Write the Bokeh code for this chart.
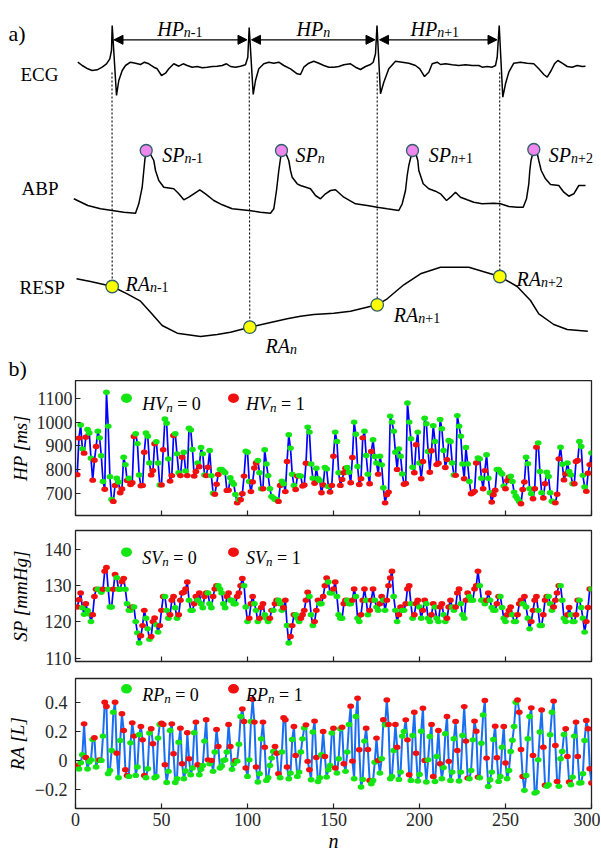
import numpy as np
from bokeh.plotting import figure
from bokeh.models import Range1d, FixedTicker, Label, Arrow, NormalHead
from bokeh.layouts import column
from bokeh.core.properties import value
from bokeh.embed import file_html
from bokeh.resources import INLINE

FONT = "Liberation Serif"

# ------------------------------------------------------------------ panel b data
HP = [780, 933, 988, 888, 870, 937, 969, 954, 849, 757, 840, 898, 962, 934, 859, 751, 719, 1125, 983, 771,
      676, 668, 735, 765, 749, 704, 720, 853, 822, 756, 765, 739, 746, 940, 951, 910, 779, 733, 735, 874,
      954, 941, 829, 779, 797, 909, 918, 829,
      737, 737, 884, 1013, 995, 846, 753, 776, 944, 951, 867, 788, 776, 853, 874, 795, 776, 974, 967, 885,
      774, 793, 829, 813, 894, 867, 779, 776, 811, 881, 776, 702, 698, 740, 781, 802, 802, 795, 788, 714,
      715, 767, 749, 740, 697, 662, 676, 675, 700, 774, 878, 874, 751, 709, 749, 808, 829, 839, 788, 721,
      721, 884, 825, 776, 721, 689, 683, 676, 676, 668, 735, 753, 742, 709, 835, 947, 891, 782, 735, 718,
      774, 776, 774, 732, 737, 828, 979, 958, 825, 765, 744, 807, 763, 756, 704, 737, 810, 804, 730, 707,
      735, 857, 958,
      919, 788, 735, 760, 788, 807, 810, 790, 746, 852, 1000, 949, 814, 739, 763, 934, 962, 860, 782, 742,
      877, 926, 856, 829, 782, 857, 821, 725, 662, 696, 707, 1025, 1000, 962, 874, 802, 888, 857, 783, 740,
      743, 1080, 1000, 930, 811, 788, 905, 958, 829, 763, 835, 1016, 993, 877, 790, 880, 985, 919, 822, 828,
      1011, 972, 881, 810, 843, 923, 919, 829, 779, 777, 1027, 983, 941, 825, 763, 894, 825, 751, 700, 704,
      710, 829, 850, 846, 765, 721, 797, 863, 765, 704, 665, 696, 715, 802, 802, 790, 783, 732, 721, 755,
      769, 773, 751, 707, 690, 679, 668, 658, 718, 749, 853, 826, 721, 700, 679, 721, 895, 913, 793, 704,
      682, 742, 790, 772, 704, 669, 665, 662, 698, 846, 895, 824, 758, 783, 829, 793, 779, 742, 742, 835,
      839, 919, 898, 777, 728, 710, 786, 822, 871]

SP = [124.1, 126.1, 128, 123.9, 122.1, 125, 123.2, 122.2, 120.1, 122,
      127, 129, 129, 129, 128.2, 129, 134, 135, 129, 124.1,
      124.1, 129, 133.1, 132.2, 129, 129, 131.1, 132, 129, 125,
      123.2, 123.2, 124.1, 124.1, 120.1, 117, 114.2, 116.2, 119, 123.2,
      121, 118.1, 115.2, 116, 120.1, 121.1, 119.2, 117.2, 119, 123.2,
      127, 127, 123.2, 121, 122, 126, 127, 123.9, 121, 122,
      126, 128, 128.2, 129.1, 131, 126, 123.2, 123.2, 125, 127,
      126, 128, 125, 123.9, 127, 128, 128, 125, 123.9, 127,
      129.1, 130, 130, 129, 128, 125, 123.9, 127, 128, 126,
      126, 125, 125, 127, 128, 130, 132, 130, 124.1, 120.1,
      121, 125, 127, 125, 123.2, 120.1, 121, 124, 125, 122,
      121, 120.1, 121, 123.2, 123.2, 125, 126, 126, 125, 123.2,
      123.9, 126, 119, 114.2, 116, 119, 122, 122, 121, 120.1,
      121, 122, 123.2, 126, 128.2, 127, 122, 119, 120.1, 123.2,
      126, 125, 125, 127, 130, 132.1, 131, 128, 128, 129.1,
      131, 127, 122, 121, 121, 125, 126, 126, 125, 125,
      126, 129.1, 127, 121, 120.1, 122, 126, 129.1, 126, 122,
      123.2, 126, 129.1, 126, 124.1, 123.2, 125, 127, 126, 123.2,
      126, 130, 132.1, 134, 127, 123.2, 120.1, 122, 124.1, 123.2,
      123.2, 125, 129.1, 130, 125, 121, 122, 125, 126, 124.1,
      121, 123.2, 126, 125, 121, 120.1, 122, 125, 124.1, 121,
      120.1, 124.1, 125, 122, 120.1, 121, 124.1, 126, 124.1, 123.2,
      124.1, 128, 129.1, 125, 122, 121, 126, 128, 127, 126,
      126, 129.1, 130, 134, 130, 126, 126, 125, 126, 128,
      126, 124, 123.2, 123.2, 125, 127, 127, 124, 121, 120.1,
      122, 123.2, 124.1, 122, 120.1, 120.1, 122, 125, 126, 125,
      127, 124.1, 121, 118.1, 120.1, 123.2, 126, 127, 123.2, 119,
      119, 122, 126, 127, 127, 125, 123.2, 124.1, 126, 128,
      130, 130, 126, 121, 120.1, 122, 124, 122, 120.1, 120.1,
      122, 126, 126, 124, 121, 117.2, 120.1, 124, 129.1, 129.1]

RA = [-0.035, -0.06, -0.016, 0.04, 0.254, 0.02, -0.06, -0.01, 0.004, 0.146,
      0.157, -0.046, 0, 0.004, 0, 0.169, 0.404, 0.374, -0.092, -0.07,
      0.069, 0.335, 0.404, 0.05, -0.12, 0.139, 0.324, 0.208, -0.065, -0.104,
      -0.111, 0.122, 0.261, 0.169, -0.104, -0.046, 0.178, 0.236, 0.143, -0.104,
      -0.12, -0.058, 0.19, 0.22, 0.116, -0.12, -0.111, 0.155, 0.25, 0.259,
      0.25, -0.03, -0.153, -0.076, 0.208, 0.254, 0.046, -0.153, -0.127, 0.127,
      0.224, -0.023, -0.127, -0.074, 0.192, 0.012, -0.1, -0.053, 0.192, 0.266,
      -0.03, -0.1, -0.062, -0.035, 0.134, 0.282, 0.004, -0.023, 0, -0.076,
      0.058, 0.215, 0.097, -0.053, -0.039, 0, 0.004, 0.058, 0.25, 0.097,
      -0.062, -0.023, 0, -0.005, 0.113, 0.305, 0.358, 0.271, -0.053, -0.111,
      0.004, 0.271, 0.425, 0.266, -0.046, -0.15, -0.092, 0.15, 0.266, 0.092,
      -0.139, -0.12, -0.035, 0.016, 0.062, 0.097, 0.05, -0.092, -0.12, 0.058,
      0.296, 0.282, -0.046, -0.127, -0.088, 0.146, 0.236, 0.035, -0.111, -0.081,
      0.058, 0.15,
      0.226, 0.247, -0.007, -0.065, -0.134, 0.197, 0.273, 0.02, -0.146, -0.12,
      0.039, 0.201, 0.028, -0.116, -0.065, -0.035, 0.19, 0.224, -0.053, -0.088,
      0.012, 0.22, 0.231, -0.023, -0.076, 0.058, 0.25, 0.377, -0.005, -0.127,
      0.305, 0.432, 0.074, -0.185, -0.132, 0.134, 0.224, 0.076, -0.139, -0.162,
      -0.139, -0.012, 0.155, 0, -0.088, 0.012, 0.282, 0.247, 0.42, 0.25,
      -0.127, -0.111, 0.069, 0.25, 0.092, -0.132, -0.081, 0.169, 0.201, 0.282,
      0.143, -0.1, -0.139, 0.173, 0.335, 0.05, -0.143, -0.097, 0.203, 0.363,
      0, -0.15, 0.004, 0.166, 0.25, -0.111, -0.146, 0.028, 0.208, -0.023,
      -0.127, -0.05, 0.185, 0.305, -0.007, -0.139, -0.081, 0.15, 0.271, 0.069,
      -0.143, -0.081, 0.173, 0.374, 0.134, -0.123, -0.127, -0.07, 0.143, 0.273,
      0.203, -0.116, -0.12, 0.12, 0.316, 0.416, 0.016, -0.181, -0.134, -0.081,
      0.146, 0.238, 0.018, -0.146, -0.111, 0.092, 0.236, -0.018, -0.127, -0.07,
      0.062, 0.14, 0.236, 0.404, 0.42, 0.335, 0.076, -0.111, -0.208, -0.104,
      0.15, 0.305, 0.365, 0.035, -0.227, -0.22, 0.004, 0.197, 0.351, 0.092,
      -0.173, -0.18, -0.169, 0.178, 0.335, 0.412, 0.104, -0.146, -0.18, 0.012,
      0.062, 0.18, 0.22, 0.028, -0.15, -0.169, -0.116, 0.169, 0.266, 0.028,
      -0.157, -0.155, -0.092, 0.139, 0.277, 0.22, -0.058, -0.157]

X_TICKS = [0, 50, 100, 150, 200, 250, 300]
HP_TICKS = [700, 800, 900, 1000, 1100]
SP_TICKS = [110, 120, 130, 140]
RA_TICKS = [-0.2, 0, 0.2, 0.4]

# ------------------------------------------------------------------ panel a data (schematic, px units)
ECG_X = [77.3, 81.7, 87.3, 91.7, 96.7, 101.7, 106, 109.3, 111, 111.7, 116, 118.3, 121.7, 125, 130, 135, 140,
         144, 148.3, 153.3, 156.7, 161, 165, 168.3, 173.3, 178.3, 182.7, 186.7, 191.7, 196.7, 201.7, 206.7,
         211.7, 216.7, 221.7, 226, 230, 235, 240, 245, 247.3, 248.7, 252.7, 255, 258.3, 263.3, 268.3, 273.3,
         278.3, 283.3, 290, 296.7, 300, 303.3, 308.3, 313.3, 318.3, 323.3, 328.3, 333.3, 338.3, 343.3, 350,
         355, 360, 365, 370, 372.7, 375, 376.5, 380, 383.3, 388.3, 395, 401.7, 408.3, 415, 419.3, 424, 428.3,
         431.7, 436.7, 440, 445, 451.7, 458.3, 465, 471.7, 478.3, 481.7, 486.7, 491.7, 495, 496.7, 498.7,
         502.3, 505, 508.3, 513.3, 520, 526.7, 533.3, 538.3, 543.3, 546.7, 550.7, 554, 557.3, 561.7, 566.7,
         571.7, 576.7, 581.7, 585]
ECG_Y = [61.7, 65, 68.3, 70, 69.3, 66.7, 63.3, 58.3, 50, 25, 95, 80, 70, 65, 61.7, 62.7, 64,
         61.7, 63.3, 66.7, 68.3, 75, 72.7, 68.3, 63.3, 65.7, 63.3, 65, 66.7, 66, 67.3, 66.7,
         66, 65.7, 65, 63.3, 66, 66.7, 65.7, 64.3, 56.7, 27, 94, 80, 68.3, 63.3, 61.7, 62.7,
         61.7, 65, 68.3, 73.3, 74, 66.7, 62.7, 60.7, 62.7, 65, 66.7, 66.7, 66, 64.3, 63.3,
         66.7, 69, 66, 64, 61.7, 53.3, 25, 93.3, 81.7, 68.3, 60.7, 61.7, 62.7, 65, 68.3, 76, 71.7,
         63.3, 61.7, 64, 63.3, 64.3, 65, 64.3, 65, 65, 66.7, 66, 66.7, 65, 56.7, 25,
         96.7, 83.3, 71.7, 62.7, 61.7, 62.7, 63.3, 68.3, 74, 76.7, 70, 63.3, 60, 62.7, 66,
         66.7, 65, 66, 65.7]

ABP_X = [73.3, 87.3, 100, 111.7, 123.3, 135, 138.3, 141.7, 143.3, 144.5, 145.7, 149, 153.3, 155, 158.3,
         163.3, 173.3, 178.3, 183.3, 188.3, 193.3, 199.3, 205, 213.3, 221.7, 231.7, 248.3, 260, 270, 273.3,
         276, 278.3, 280, 281, 285, 288.3, 290, 291.7, 296.7, 300, 310, 315, 320, 325, 330, 335, 343.3, 355,
         366.7, 376.7, 386.7, 398.3, 401.7, 405, 406.7, 408.3, 410.5, 412, 415, 417.3, 418.3, 422.7, 428.3,
         435, 440, 446, 450, 455, 460, 466.7, 473.3, 481.7, 493.3, 500, 508.3, 516.7, 522.7, 526, 528.3,
         529.3, 530.5, 533.3, 536.5, 538.3, 540.7, 545, 550, 558.3, 563.3, 568.3, 573.3, 578.3, 585]
ABP_Y = [198.3, 205, 208.3, 210, 211.7, 212.7, 203.3, 186.7, 170, 158, 150, 152, 160, 170, 180,
         186.7, 188.3, 193.3, 199.3, 196.7, 193.3, 189.3, 193.3, 200, 204.3, 208.3, 210, 211.7, 212.7, 208.3,
         190, 170, 158, 150, 152, 160, 170, 176.7, 183.3, 185, 188.3, 195, 198.3, 193.3, 190, 189.3, 196.7, 203.3,
         205, 206.7, 208.3, 210, 203.3, 190, 175, 165, 156, 150, 152, 160, 170, 183.3, 188.3,
         190.7, 193.3, 200, 196.7, 191.7, 196.7, 199.3, 201.7, 203.3, 202.7, 203.3, 206, 206.7, 206.7, 198.3, 183.3,
         170, 160, 149, 152, 160, 170, 178.3, 184, 185, 191.7, 195.7, 193.3, 185, 185]

RESP_X = [76, 90, 103.3, 111.7, 126.7, 140, 150, 161.7, 176.7, 200, 216.7, 230, 249.3, 266.7, 286.7, 300,
          313.3, 333.3, 350, 376.7, 386.7, 403.3, 420, 440, 468.3, 485, 499.3, 516.7, 530, 538.3, 553.3,
          566.7, 587.3]
RESP_Y = [278.3, 281, 284, 286, 293.3, 300.7, 311.7, 325, 332.7, 336, 334, 331.7, 326.7, 322.7, 318.3, 315.7,
          314, 312.7, 310.7, 304.3, 298.3, 284.3, 273.3, 266.7, 266.7, 271.7, 276, 286, 300, 313.3, 324,
          329, 330.7]

R_PEAK_X = [111.5, 248.7, 376.7, 499.2]
SP_DOT_X = [145.7, 281, 412, 533.3]
SP_DOT_Y = [150, 150, 150, 149]
RA_DOT_X = [111.7, 249.3, 376.7, 499.3]
RA_DOT_Y = [286, 326.7, 304.3, 276]
HP_ARROW_X0 = [113.5, 251, 379]
HP_ARROW_X1 = [246.5, 374.5, 496.5]

# ------------------------------------------------------------------ text helpers
W_REG = {'-': .333, '+': .564, '=': .564, ' ': .25, '[': .333, ']': .333, 'm': .778, 's': .389,
         'H': .722, 'g': .5, 'L': .611, '.': .25, 'n': .5}
W_IT = {'H': .722, 'P': .611, 'V': .611, 'S': .5, 'R': .611, 'A': .611, 'n': .5}


def tw(s, size, italic=False):
    tab = W_IT if italic else W_REG
    return sum(tab.get(c, 0.5) for c in s) * size


def sym_pieces(sym, sub, big=20, small=14, dy=3.5):
    pcs = [(sym, True, big, 0), ("n", True, small, dy)]
    if sub:
        pcs.append((sub, False, small, dy))
    return pcs


# ------------------------------------------------------------------ panel a
HA = 380
pa = figure(width=600, height=HA, x_range=Range1d(0, 600), y_range=Range1d(HA, 0),
            min_border=0, toolbar_location=None, output_backend="svg",
            x_axis_location=None, y_axis_location=None)
pa.grid.visible = False
pa.outline_line_color = None


def rich_a(x, y, pieces):
    for txt, it, size, dy in pieces:
        pa.text(x=[x], y=[y + dy], text=[txt], text_font=value(FONT), text_font_size=f"{size}px",
                text_font_style="italic" if it else "normal", text_align="left",
                text_baseline="alphabetic", text_color="black")
        x += tw(txt, size, it)


pa.segment(x0=R_PEAK_X, y0=[72] * 4, x1=RA_DOT_X, y1=RA_DOT_Y, line_color="black",
           line_width=1.1, line_dash="2 2")
pa.line(ECG_X, ECG_Y, line_color="black", line_width=1.5)
pa.line(ABP_X, ABP_Y, line_color="black", line_width=1.5)
pa.line(RESP_X, RESP_Y, line_color="black", line_width=1.5)
pa.scatter(SP_DOT_X, SP_DOT_Y, size=12, fill_color="#ee88ee", line_color="#2f5f66", line_width=1.3)
pa.scatter(RA_DOT_X, RA_DOT_Y, size=12.5, fill_color="#ffff00", line_color="#2f5f66", line_width=1.3)

for x0, x1 in zip(HP_ARROW_X0, HP_ARROW_X1):
    pa.add_layout(Arrow(x_start=x0, y_start=39.3, x_end=x1, y_end=39.3, line_width=1.3,
                        start=NormalHead(size=9, fill_color="black", line_color="black"),
                        end=NormalHead(size=9, fill_color="black", line_color="black")))

rich_a(8, 33, [("a)", False, 22, 0)])
rich_a(8, 368, [("b)", False, 22, 0)])
rich_a(20, 74, [("ECG", False, 19, 0)])
rich_a(21, 188.3, [("ABP", False, 19, 0)])
rich_a(19, 287.3, [("RESP", False, 19, 0)])

for x, sub in zip([156.7, 296, 410], ["-1", "", "+1"]):
    rich_a(x, 28.3, sym_pieces("HP", sub))
for x, sub in zip([161.7, 295, 428.3, 548.3], ["-1", "", "+1", "+2"]):
    rich_a(x, 154, sym_pieces("SP", sub))
for x, y, sub in zip([125, 265, 393.3, 516], [283.3, 345, 314, 278.3], ["-1", "", "+1", "+2"]):
    rich_a(x, y, sym_pieces("RA", sub))


# ------------------------------------------------------------------ panels b
FR_L, FR_R = 75, 591


def make_panel(vals, ylo, yhi, T, B, h, btop, bbot, yticks, line_color, line_w, colors,
               sym, ylabel, lab_standoff, leg_dot_y, leg_base, show_x, standoff, overrides=None):
    p = figure(width=600, height=h, x_range=Range1d(0, 300), y_range=Range1d(ylo, yhi),
               min_border_left=FR_L, min_border_right=600 - FR_R, min_border_top=btop,
               min_border_bottom=bbot, toolbar_location=None, output_backend="svg")
    p.grid.visible = False
    p.outline_line_color = "#222222"
    p.outline_line_width = 1.3
    p.xaxis.ticker = FixedTicker(ticks=X_TICKS)
    p.yaxis.ticker = FixedTicker(ticks=yticks)
    for ax in (p.xaxis[0], p.yaxis[0]):
        ax.major_tick_in = 5
        ax.major_tick_out = 0
        ax.minor_tick_line_color = None
        ax.axis_line_color = None
        ax.major_tick_line_color = "#222222"
        ax.major_tick_line_width = 1.2
        ax.major_label_text_font = FONT
        ax.major_label_text_font_size = "18px"
        ax.major_label_text_color = "#262626"
    p.yaxis.major_label_standoff = standoff
    p.yaxis.axis_label = ylabel
    p.yaxis.axis_label_text_font = FONT
    p.yaxis.axis_label_text_font_size = "19px"
    p.yaxis.axis_label_text_font_style = "italic"
    p.yaxis.axis_label_text_color = "black"
    p.yaxis.axis_label_standoff = lab_standoff
    if overrides:
        p.yaxis.major_label_overrides = overrides
    if show_x:
        p.xaxis.major_label_standoff = 4
        p.xaxis.axis_label = "n"
        p.xaxis.axis_label_text_font = FONT
        p.xaxis.axis_label_text_font_size = "20px"
        p.xaxis.axis_label_text_font_style = "italic"
        p.xaxis.axis_label_text_color = "black"
        p.xaxis.axis_label_standoff = 1
    else:
        # ticks only, no tick labels on the upper panels
        p.xaxis.major_label_overrides = {t: "" for t in X_TICKS}
        p.xaxis.major_label_standoff = 0

    def dx(px):
        return (px - FR_L) / (FR_R - FR_L) * 300

    def dy(py):
        return ylo + (B - py) / (B - T) * (yhi - ylo)

    n = np.arange(1, len(vals) + 1)
    p.line(n, vals, line_color=line_color, line_width=line_w)
    cols = ["#f01010" if c else "#14e614" for c in colors]
    p.ellipse(n, vals, width=6.8, height=5.4, width_units="screen", height_units="screen",
              fill_color=cols, line_color=None)

    # legend (drawn inside the frame)
    for px_dot, px_txt, lab, col in [(126, 141.7, "= 0", "#14e614"), (233, 245.5, "= 1", "#f01010")]:
        p.ellipse([dx(px_dot)], [dy(leg_dot_y)], width=11, height=9.5, width_units="screen",
                  height_units="screen", fill_color=col, line_color=None)
        x = px_txt
        for txt, it, size, ddy, gap in [(sym, True, 18, 0, 0), ("n", True, 13, 3.5, 0),
                                        (lab, False, 18, 0, 4.5)]:
            x += gap
            p.add_layout(Label(x=dx(x), y=dy(leg_base + ddy), text=txt, text_font=FONT,
                               text_font_size=f"{size}px", text_font_style="italic" if it else "normal",
                               text_align="left", text_baseline="alphabetic", text_color="black"))
            x += tw(txt, size, it)
    return p


hp_col = [1 if (i + 1 < len(HP) and HP[i + 1] > HP[i]) else 0 for i in range(len(HP))]
sp_col = [1 if (i == 0 or SP[i] > SP[i - 1]) else 0 for i in range(len(SP))]
ra_col = [1 if (i + 1 == len(RA) or RA[i + 1] < RA[i]) else 0 for i in range(len(RA))]

# HP: canvas 380-522, frame 380-515
php = make_panel(HP, 609, 1174, 380, 515, 142, 0, 7, HP_TICKS, "#0000ff", 1.7, hp_col,
                 "HV", "HP [ms]", 3, 397.7, 403.5, False, 3)
# SP: canvas 522-669, frame 530-661
psp = make_panel(SP, 109.1, 145.2, 530, 661, 147, 8, 8, SP_TICKS, "#0000ff", 1.7, sp_col,
                 "SV", "SP [mmHg]", 11, 551.7, 557.5, False, 4)
# RA: canvas 669-855, frame 678-808
pra = make_panel(RA, -0.334, 0.569, 678, 808, 186, 9, 47, RA_TICKS, "#1a6ef0", 2.0, ra_col,
                 "RP", "RA [L]", 4, 688.3, 694.5, True, 8, overrides={0: "0"})

html = file_html([pa, column(php, psp, pra)], INLINE)
open("out.html", "w").write(html)
